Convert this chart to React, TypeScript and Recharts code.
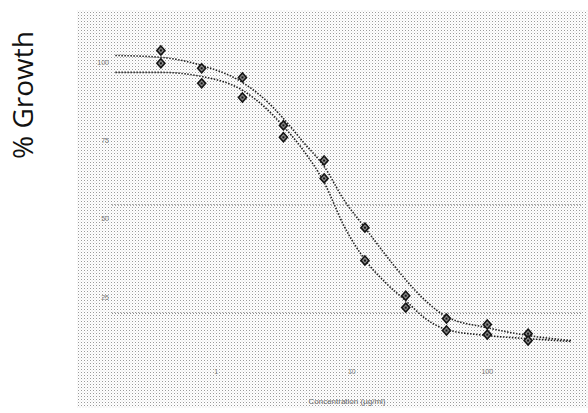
import { ComposedChart, Line, Scatter, XAxis, YAxis, ReferenceLine } from 'recharts';

// concentrations tested (2-fold dilution series)
const conc = [0.39, 0.78, 1.56, 3.13, 6.25, 12.5, 25, 50, 100, 200];
const growthA = [103.7, 98.0, 95.1, 79.8, 68.6, 47.2, 25.5, 18.2, 16.3, 13.4];
const growthB = [99.6, 93.2, 88.7, 76.0, 62.9, 36.7, 21.7, 14.4, 13.1, 11.2];

// fitted curves
const fitConc = [0.18, 0.39, 0.78, 1.56, 2.2, 3.13, 4.4, 6.25, 8.8, 12.5, 17.7, 25, 35, 50, 100, 200, 420];
const fitA = [102.1, 101.5, 98.9, 93.5, 88.7, 82.0, 74.4, 66.7, 55.9, 47.2, 38.6, 30.6, 23.9, 18.8, 15.3, 12.8, 11.2];
const fitB = [96.7, 96.7, 95.4, 91.0, 86.2, 79.5, 71.8, 61.6, 47.6, 37.0, 29.7, 23.9, 18.2, 14.7, 12.8, 11.8, 10.9];

const xTicks = [1, 10, 100];
const yTicks = [25, 50, 75, 100];
const gridLevels = [54.4, 19.9];

const pointsA = conc.map((x, i) => ({ x, y: growthA[i] }));
const pointsB = conc.map((x, i) => ({ x, y: growthB[i] }));
const curveA = fitConc.map((x, i) => ({ x, y: fitA[i] }));
const curveB = fitConc.map((x, i) => ({ x, y: fitB[i] }));

const Diamond = (props: any) => {
  const { cx, cy } = props;
  if (cx == null || cy == null) return null;
  return (
    <g>
      <path
        d={`M${cx},${cy - 4.5} L${cx + 4},${cy} L${cx},${cy + 4.5} L${cx - 4},${cy} Z`}
        fill="#8a8a8a"
        stroke="#141414"
        strokeWidth={1.6}
      />
      <rect x={cx - 1} y={cy - 1} width={2} height={2} fill="#141414" />
    </g>
  );
};

const tickStyle = { fontSize: 7, fill: '#777', fontFamily: 'Liberation Sans, sans-serif' };

export default function App() {
  return (
    <div style={{ position: 'absolute', left: 0, top: 0, width: 588, height: 413, background: '#fff' }}>
      <svg width={588} height={413} style={{ position: 'absolute', left: 0, top: 0 }}>
        <defs>
          <pattern id="stipple" width={3} height={3} patternUnits="userSpaceOnUse">
            <rect x={0} y={0} width={1} height={1} fill="#9a9a9a" />
            <rect x={1.5} y={1.5} width={1} height={1} fill="#d8d8d8" />
          </pattern>
        </defs>
        <rect x={77} y={10} width={511} height={398} fill="url(#stipple)" />
      </svg>
      <div
        style={{
          position: 'absolute',
          left: 22,
          top: 95,
          transform: 'translate(-50%, -50%) rotate(-90deg)',
          fontFamily: '"Open Sans", sans-serif',
          fontSize: 28,
          color: '#111',
          whiteSpace: 'nowrap',
        }}
      >
        % Growth
      </div>
      <div style={{ position: 'absolute', left: 0, top: 0 }}>
        <ComposedChart width={588} height={413} margin={{ top: 15, right: 6, bottom: 23, left: 82 }}>
          <XAxis
            dataKey="x"
            type="number"
            scale="log"
            domain={[0.17, 500]}
            allowDataOverflow
            ticks={xTicks}
            height={30}
            axisLine={false}
            tickLine={false}
            tickSize={6}
            tickMargin={3}
            tick={tickStyle}
            label={{
              value: 'Concentration (µg/ml)',
              position: 'bottom',
              offset: 8,
              style: { fontSize: 8, fill: '#666', fontFamily: 'Liberation Sans, sans-serif' },
            }}
          />
          <YAxis
            type="number"
            domain={[5, 115]}
            ticks={yTicks}
            width={30}
            axisLine={false}
            tickLine={false}
            tickSize={1}
            tickMargin={2}
            tick={tickStyle}
          />
          {gridLevels.map((v) => (
            <ReferenceLine key={v} y={v} stroke="#6a6a6a" strokeDasharray="1 2" />
          ))}
          <Line
            data={curveA}
            dataKey="y"
            type="monotone"
            stroke="#222"
            strokeWidth={1.6}
            strokeDasharray="1.5 1.5"
            dot={false}
            isAnimationActive={false}
          />
          <Line
            data={curveB}
            dataKey="y"
            type="monotone"
            stroke="#222"
            strokeWidth={1.6}
            strokeDasharray="1.5 1.5"
            dot={false}
            isAnimationActive={false}
          />
          <Scatter data={pointsA} dataKey="y" shape={Diamond} isAnimationActive={false} />
          <Scatter data={pointsB} dataKey="y" shape={Diamond} isAnimationActive={false} />
        </ComposedChart>
      </div>
    </div>
  );
}
